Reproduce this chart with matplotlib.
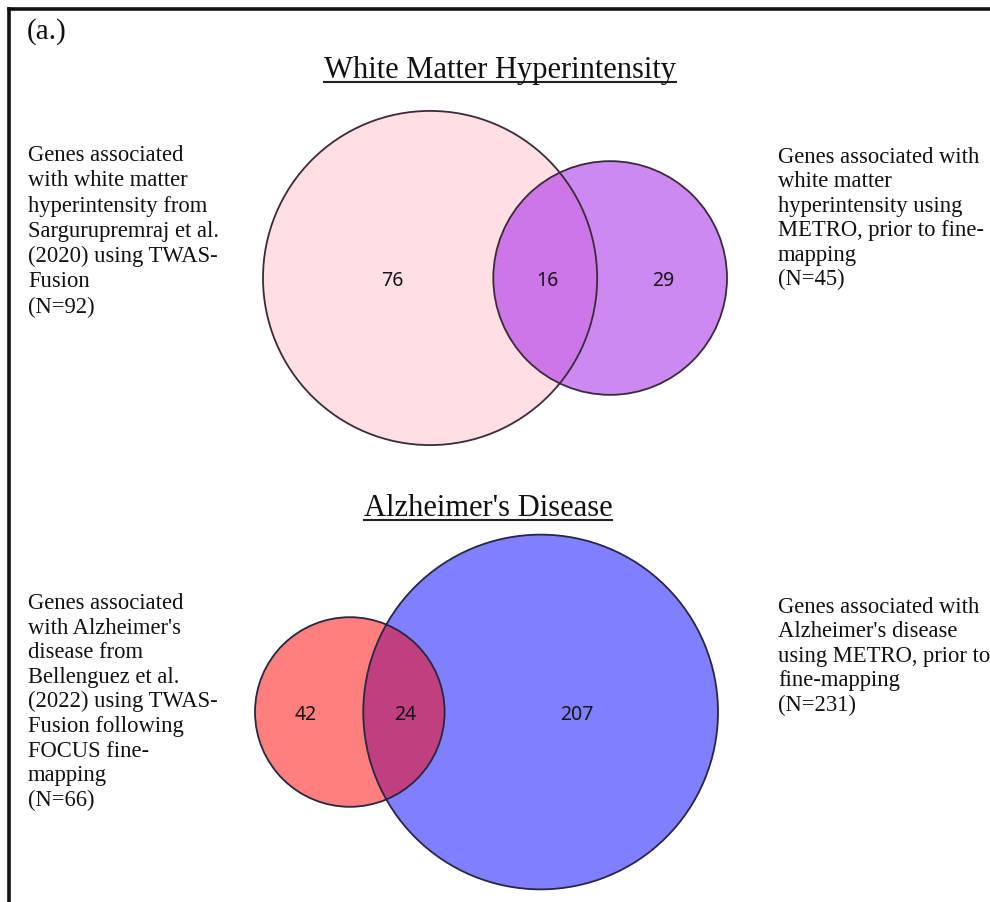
import numpy as np
import matplotlib
matplotlib.use("Agg")
import matplotlib.pyplot as plt
from matplotlib.patches import Circle

# ---------------- data ----------------
panel_label = "(a.)"

wmh_title = "White Matter Hyperintensity"
wmh_totals = [92, 45]
wmh_regions = [76, 16, 29]          # only A, A&B, only B
wmh_left_text = ["Genes associated", "with white matter", "hyperintensity from",
                 "Sarguruprem raj et al.".replace(" raj", "raj"), "(2020) using TWAS-", "Fusion", "(N=92)"]
wmh_right_text = ["Genes associated with", "white matter", "hyperintensity using",
                  "METRO, prior to fine-", "mapping", "(N=45)"]

ad_title = "Alzheimer's Disease"
ad_totals = [66, 231]
ad_regions = [42, 24, 207]
ad_left_text = ["Genes associated", "with Alzheimer's", "disease from", "Bellenguez et al.",
                "(2022) using TWAS-", "Fusion following", "FOCUS fine-", "mapping", "(N=66)"]
ad_right_text = ["Genes associated with", "Alzheimer's disease", "using METRO, prior to",
                 "fine-mapping", "(N=231)"]

# ---------------- figure ----------------
W, H = 990, 903
fig = plt.figure(figsize=(W / 100, H / 100), dpi=100)
ax = fig.add_axes([0, 0, 1, 1])
ax.set_xlim(0, W)
ax.set_ylim(H, 0)
ax.axis("off")

SERIF = ["Liberation Serif", "DejaVu Serif"]
SANS = ["Noto Sans", "DejaVu Sans"]

# frame (left and top edges visible)
ax.plot([9, 9], [H + 5, 10], color="#111111", lw=2.6, solid_capstyle="projecting")
ax.plot([9, W + 5], [10, 10], color="#111111", lw=2.6, solid_capstyle="projecting")

ax.text(27, 39, panel_label, fontsize=21, family=SERIF, ha="left", va="baseline", color="#111111")


def venn(totals, regions, centers_y, left_edge, right_edge, scale, colors, edge, label_x):
    ra = scale * np.sqrt(totals[0])
    rb = scale * np.sqrt(totals[1])
    xa = left_edge + ra
    xb = right_edge - rb
    ca = Circle((xa, centers_y), ra, facecolor=colors[0], edgecolor="none", zorder=1)
    cb = Circle((xb, centers_y), rb, facecolor=colors[1], edgecolor="none", zorder=2)
    ax.add_patch(ca)
    ax.add_patch(cb)
    ov = Circle((xb, centers_y), rb, facecolor=colors[2], edgecolor="none", zorder=3)
    ax.add_patch(ov)
    ov.set_clip_path(ca)
    for (x, r) in [(xa, ra), (xb, rb)]:
        ax.add_patch(Circle((x, centers_y), r, facecolor="none", edgecolor=edge, lw=1.3, zorder=4))
    for lx, v in zip(label_x, regions):
        ax.text(lx, centers_y + 2, str(v), fontsize=14, family=SANS, ha="center", va="center",
                color="#151515", zorder=5)


venn(wmh_totals, wmh_regions, 279, 263, 727, 17.42,
     ["#FFDEE4", "#CB89F1", "#CC76E8"], "#3a2a3a", [392, 547, 663])
venn(ad_totals, ad_regions, 713, 255, 718, 11.67,
     ["#FF7F7F", "#7F7FFF", "#C0407F"], "#262645", [306, 405, 577])


def block(lines, x, y0, dy):
    for i, s in enumerate(lines):
        ax.text(x, y0 + i * dy, s, fontsize=16.3, family=SERIF, ha="left", va="baseline", color="#111111")


block(wmh_left_text, 28, 161, 25.3)
block(wmh_right_text, 778, 163, 24.4)
block(ad_left_text, 28, 609, 24.6)
block(ad_right_text, 778, 613, 24.4)

titles = []
for s, x, y in [(wmh_title, 500, 78), (ad_title, 488, 516)]:
    t = ax.text(x, y, s, fontsize=22, family=SERIF, ha="center", va="baseline", color="#111111")
    titles.append((t, y))

fig.canvas.draw()
r = fig.canvas.get_renderer()
inv = ax.transData.inverted()
for t, y in titles:
    bb = t.get_window_extent(r)
    x0 = inv.transform((bb.x0, 0))[0]
    x1 = inv.transform((bb.x1, 0))[0]
    ax.plot([x0, x1], [y + 5, y + 5], color="#222222", lw=1.5)

fig.savefig("out.png", dpi=100)
